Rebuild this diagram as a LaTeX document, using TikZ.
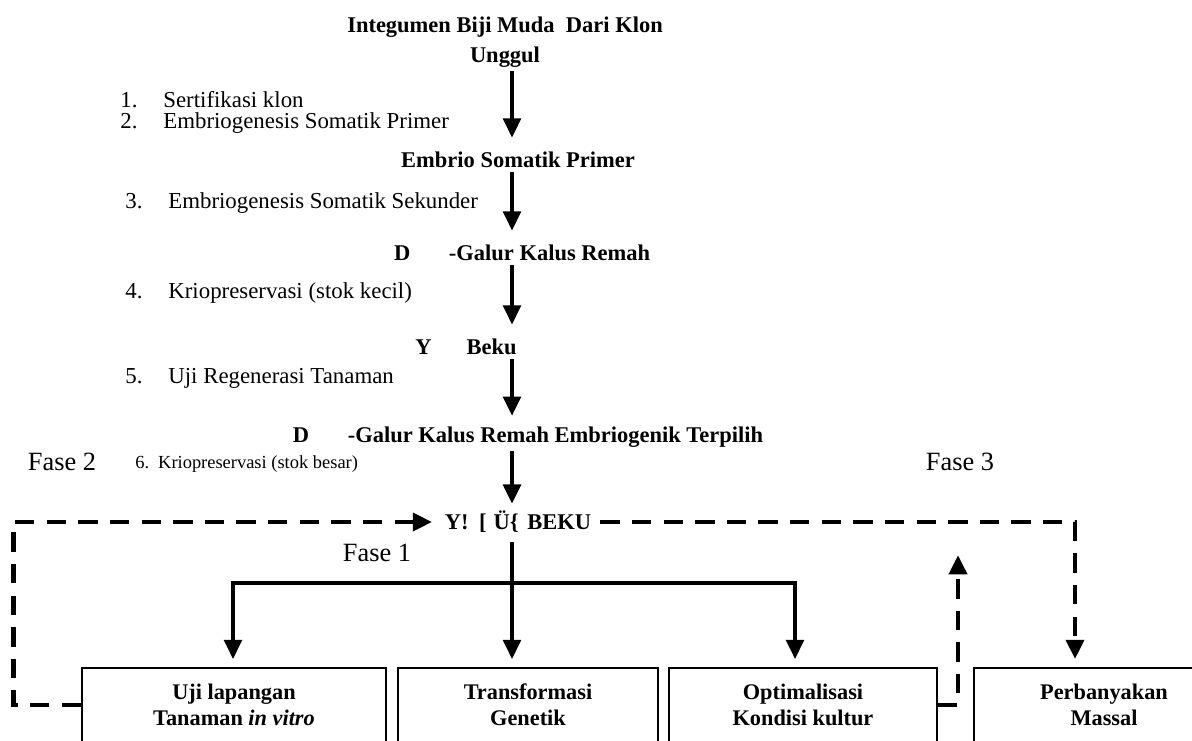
\documentclass[tikz,border=0pt]{standalone}
\usepackage{fontspec}
\setmainfont{Liberation Serif}
\usetikzlibrary{positioning,arrows.meta}
\tikzset{
  hd/.style={font=\fontsize{12.8}{17}\selectfont\bfseries, inner sep=2pt},
  itm/.style={font=\fontsize{13}{15}\selectfont, anchor=west, inner sep=0pt},
  fase/.style={font=\fontsize{15}{17}\selectfont, inner sep=0pt},
  kotak/.style={draw, line width=1.1pt, minimum height=1.48cm, align=center,
    font=\fontsize{12.7}{15}\selectfont\bfseries, inner sep=0pt},
  flow/.style={line width=2.3pt, ->, >={Triangle[length=11pt,width=10pt]}},
  putus/.style={line width=2.8pt, dash pattern=on 11pt off 7pt, ->, >={Triangle[length=11pt,width=10pt]}}
}
\newcommand{\nomor}[2]{\makebox[24.5pt][l]{#1}#2}
\begin{document}
\begin{tikzpicture}[x=0.02cm,y=-0.02cm]
\clip (0,0) rectangle (1192,740);
\coordinate (spine) at (512,0);

\node[hd, align=center] (igm) at (505,42) {Integumen Biji Muda\ \ Dari Klon\\Unggul};
\node[hd] (emb) at (518,160) {Embrio Somatik Primer};
\node[hd, anchor=east] (dgk) at (654,253) {D\hspace{22pt}-Galur Kalus Remah};
\node[hd] (ybk) at (466,347) {Y\hspace{20pt}Beku};
\node[hd, anchor=east] (dgt) at (767,437) {D\hspace{22pt}-Galur Kalus Remah Embriogenik Terpilih};
\node[hd] (bku) at (518,522) {Y!\hspace{6pt}[\hspace{4pt}Ü\{\hspace{5pt}BEKU};

\node[itm] (s1) at (120,100) {\nomor{1.}{Sertifikasi klon}};
\node[itm] (s2) at (120,123) {\nomor{2.}{Embriogenesis Somatik Primer}};
\node[itm] (s3) at (125,203) {\nomor{3.}{Embriogenesis Somatik Sekunder}};
\node[itm] (s4) at (125,293) {\nomor{4.}{Kriopreservasi (stok kecil)}};
\node[itm] (s5) at (125,378) {\nomor{5.}{Uji Regenerasi Tanaman}};
\node[itm, font=\fontsize{10.5}{13}\selectfont] (s6) at (135,464) {\makebox[13pt][l]{6.}Kriopreservasi (stok besar)};

\node[fase] (f2) at (62,462) {Fase 2};
\node[fase] (f3) at (960,462) {Fase 3};
\node[fase] (f1) at (377,553) {Fase 1};

\node[kotak, minimum width=6.08cm] (uji) at (234,705) {Uji lapangan\\Tanaman \textit{in vitro}};
\node[kotak, minimum width=5.2cm] (trg) at (528,705) {Transformasi\\Genetik};
\node[kotak, minimum width=5.36cm] (opt) at (803,705) {Optimalisasi\\Kondisi kultur};
\node[kotak, minimum width=5.2cm] (pbm) at (1104,705) {Perbanyakan\\Massal};

\draw[flow, shorten >=6pt] (igm.south -| spine) -- (emb.north -| spine);
\draw[flow, shorten >=6pt] (emb.south -| spine) -- (dgk.north -| spine);
\draw[flow, shorten >=6pt] (dgk.south -| spine) -- (ybk.north -| spine);
\draw[flow, shorten >=4pt] (ybk.south -| spine) -- (dgt.north -| spine);
\draw[flow, shorten >=2pt] (dgt.south -| spine) -- (bku.north -| spine);
\draw[flow, shorten >=4.5pt, shorten <=3pt] (bku.south -| spine) -- (trg.north -| spine);

\coordinate (brL) at (233,583);
\coordinate (brR) at (795,583);
\draw[flow, <->, shorten >=4.5pt, shorten <=4.5pt] (uji.north -| brL) -- (brL) -- (brR) -- (opt.north -| brR);

\draw[putus, shorten >=5pt] (uji.west) -- ++(-68,0) |- (bku.west);
\coordinate (rc) at (1075,522);
\draw[putus, shorten >=4.5pt, shorten <=3pt] (bku.east) -- (rc) -- (rc |- pbm.north);
\coordinate (up) at (958,555);
\draw[putus] (opt.east) -| (up);

\end{tikzpicture}
\end{document}
